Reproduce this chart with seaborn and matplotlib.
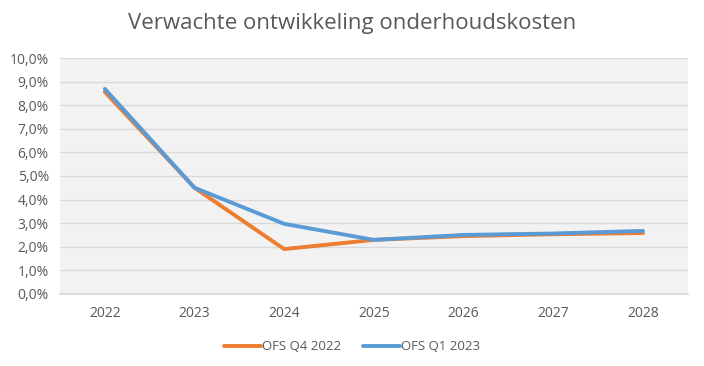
import matplotlib
matplotlib.use("Agg")
import matplotlib.pyplot as plt
import seaborn as sns
import pandas as pd
from matplotlib.ticker import FuncFormatter, MultipleLocator

years = ["2022", "2023", "2024", "2025", "2026", "2027", "2028"]
q4_2022 = [8.56, 4.5, 1.9, 2.29, 2.45, 2.53, 2.58]
q1_2023 = [8.69, 4.5, 2.97, 2.29, 2.5, 2.56, 2.67]
series_names = ["OFS Q4 2022", "OFS Q1 2023"]
title = "Verwachte ontwikkeling onderhoudskosten"

df = pd.concat([
    pd.DataFrame({"jaar": years, "waarde": q4_2022, "reeks": series_names[0]}),
    pd.DataFrame({"jaar": years, "waarde": q1_2023, "reeks": series_names[1]}),
])

sns.set_theme(style="white")
plt.rcParams["font.family"] = ["Open Sans", "DejaVu Sans"]
txt = "#595959"

fig = plt.figure(figsize=(7.04, 3.66), dpi=100)
ax = fig.add_axes([0.0852, 0.197, 0.8918, 0.6445])
ax.set_facecolor("#f2f2f2")

sns.lineplot(data=df, x="jaar", y="waarde", hue="reeks", sort=False,
             palette={series_names[0]: "#ED7D31", series_names[1]: "#5B9BD5"},
             linewidth=2.8, ax=ax, legend=True)

ax.set_xlim(-0.5, len(years) - 0.5)
ax.set_ylim(0, 10)
ax.yaxis.set_major_locator(MultipleLocator(1))
ax.yaxis.set_major_formatter(FuncFormatter(lambda v, p: f"{v:.1f}%".replace(".", ",")))
ax.grid(axis="y", color="#d9d9d9", linewidth=1)
ax.set_axisbelow(True)
for s in ["top", "right", "left"]:
    ax.spines[s].set_visible(False)
ax.spines["bottom"].set_color("#d9d9d9")
ax.tick_params(axis="both", length=0, labelsize=10, colors=txt)
ax.tick_params(axis="x", pad=9)
ax.tick_params(axis="y", pad=8)
ax.set_xlabel("")
ax.set_ylabel("")

fig.text(0.5, 0.935, title, ha="center", va="center", fontsize=16, color=txt)

handles, labels = ax.get_legend_handles_labels()
ax.legend(handles, labels, loc="center", bbox_to_anchor=(0.5, 0.052),
          bbox_transform=fig.transFigure, ncol=2, frameon=False,
          fontsize=9.5, labelcolor=txt, handlelength=2.8, handletextpad=0.1,
          columnspacing=1.6)

fig.savefig("out.png", dpi=100, facecolor="white")
